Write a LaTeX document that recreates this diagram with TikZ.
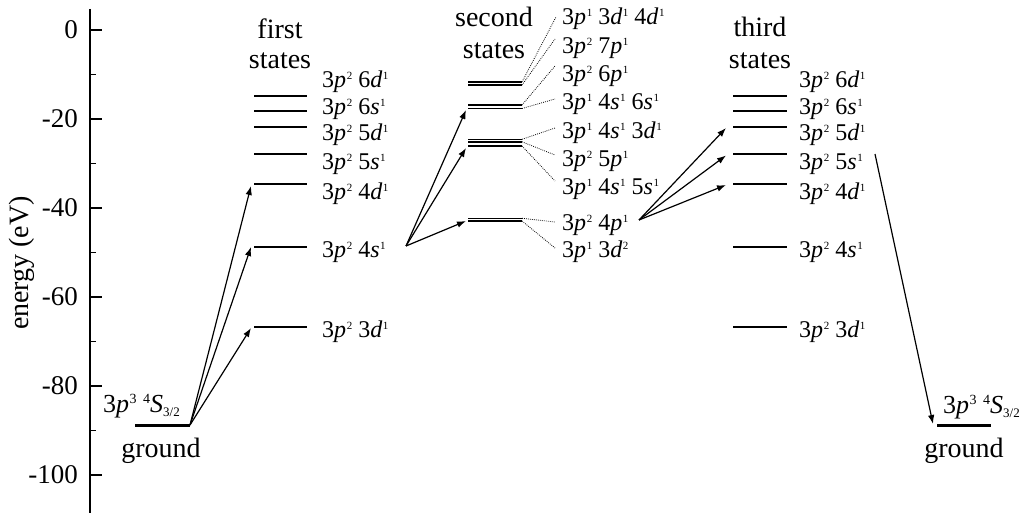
\documentclass[tikz,border=0pt]{standalone}
\usepackage{fontspec}
\setmainfont{Liberation Serif}
\usetikzlibrary{arrows.meta}
\newcommand\orb[3]{#1\textit{#2}\kern0.6pt\raisebox{8pt}{\fontsize{11}{11}\selectfont #3}}
\newcommand\gsup[1]{\raisebox{9pt}{\fontsize{14}{14}\selectfont #1}}
\newcommand\glab{3\textit{p}\kern0.5pt\gsup{3}\ \gsup{4}\textit{S}\raisebox{-4pt}{\fontsize{13}{13}\selectfont 3/2}}
\begin{document}
\begin{tikzpicture}[x=1pt,y=-1pt,
  lvl/.style={line width=1.5pt},
  gnd/.style={line width=3pt},
  arr/.style={-{Latex[length=9pt,width=6.5pt]}, line width=1.2pt},
  dots/.style={line width=0.8pt, dash pattern=on 0.8pt off 1.2pt},
  lab/.style={anchor=base west, inner sep=0pt, font=\fontsize{24}{26}\selectfont},
  head/.style={anchor=base, inner sep=0pt, font=\fontsize{28}{30}\selectfont},
  tick/.style={anchor=east, inner sep=0pt, font=\fontsize{27}{29}\selectfont},
  axis/.style={line width=1.2pt},
]
\useasboundingbox (0,0) rectangle (1032,513);

% axis
\draw[axis] (90,9) coordinate (axtop) -- (90,513) coordinate (axbot);
\foreach \e/\t in {0/0,-20/-20,-40/-40,-60/-60,-80/-80,-100/-100}{
  \draw[axis] (90,30-4.45*\e) -- (102,30-4.45*\e);
  \node[tick] (tk\e) at (78,30-4.45*\e) {\t};
}
\foreach \e in {-10,-30,-50,-70,-90}{
  \draw[axis] (90,30-4.45*\e) -- (96,30-4.45*\e);
}
\node[rotate=90, inner sep=0pt, font=\fontsize{28}{30}\selectfont] (ylab) at (22,263) {energy (eV)};

% headings
\node[head] (h1a) at (280,39) {first};
\node[head] (h1b) at (280,69) {states};
\node[head] (h2a) at (494,27) {second};
\node[head] (h2b) at (494,59) {states};
\node[head] (h3a) at (760,37) {third};
\node[head] (h3b) at (760,69) {states};

% ground states
\draw[gnd] (135,425) coordinate (GLL) -- (190,425) coordinate (GLR);
\draw[gnd] (937,425) coordinate (GRL) -- (991,425) coordinate (GRR);
\node[anchor=base west, inner sep=0pt, font=\fontsize{26}{28}\selectfont] (gl1) at (103,412) {\glab};
\node[anchor=base west, inner sep=0pt, font=\fontsize{26}{28}\selectfont] (gr1) at (943,413) {\glab};
\node[head] (gl2) at (161,457) {ground};
\node[head] (gr2) at (964,457) {ground};

% first and third states levels
\foreach \n/\y in {6d/96,6s/111,5d/127,5s/154,4d/184,4s/247,3d/327}{
  \draw[lvl] (254,\y) coordinate (F\n L) -- (307,\y) coordinate (F\n R);
  \draw[lvl] (733,\y) coordinate (T\n L) -- (787,\y) coordinate (T\n R);
}
\foreach \c/\a/\b/\yb in {6d/6/d/88,6s/6/s/115,5d/5/d/141,5s/5/s/169,4d/4/d/199,4s/4/s/257,3d/3/d/337}{
  \node[lab] (FL\c) at (322,\yb) {\orb{3}{p}{2}\ \orb{\a}{\b}{1}};
  \node[lab] (TL\c) at (799,\yb) {\orb{3}{p}{2}\ \orb{\a}{\b}{1}};
}

% second states levels
\foreach \k/\y in {a/82,b/85,c/105,d/108.5,e/139.3,f/141.8,g/146,h/218.3,i/221}{
  \draw[lvl] (468,\y) coordinate (S\k L) -- (522,\y) coordinate (S\k R);
}
\node[lab] (s1) at (562,25) {\orb{3}{p}{1}\ \orb{3}{d}{1}\ \orb{4}{d}{1}};
\node[lab] (s2) at (562,54) {\orb{3}{p}{2}\ \orb{7}{p}{1}};
\node[lab] (s3) at (562,82) {\orb{3}{p}{2}\ \orb{6}{p}{1}};
\node[lab] (s4) at (562,110) {\orb{3}{p}{1}\ \orb{4}{s}{1}\ \orb{6}{s}{1}};
\node[lab] (s5) at (562,139) {\orb{3}{p}{1}\ \orb{4}{s}{1}\ \orb{3}{d}{1}};
\node[lab] (s6) at (562,167) {\orb{3}{p}{2}\ \orb{5}{p}{1}};
\node[lab] (s7) at (562,194) {\orb{3}{p}{1}\ \orb{4}{s}{1}\ \orb{5}{s}{1}};
\node[lab] (s8) at (562,230) {\orb{3}{p}{2}\ \orb{4}{p}{1}};
\node[lab] (s9) at (562,257) {\orb{3}{p}{1}\ \orb{3}{d}{2}};

% dotted leaders
\draw[dots] (SaR) -- ([shift={(-6,-8)}]s1.base west);
\draw[dots] (SbR) -- ([shift={(-7,-15)}]s2.base west);
\draw[dots] (ScR) -- ([shift={(-7,-16)}]s3.base west);
\draw[dots] (SdR) -- ([shift={(-7,-11)}]s4.base west);
\draw[dots] (SeR) -- ([shift={(-7,-11)}]s5.base west);
\draw[dots] (SfR) -- ([shift={(-7,-12)}]s6.base west);
\draw[dots] (SgR) -- ([shift={(-7,-13)}]s7.base west);
\draw[dots] (ShR) -- ([shift={(-7,-8)}]s8.base west);
\draw[dots] (SiR) -- ([shift={(-7,-9)}]s9.base west);

% arrows
\coordinate (A1) at (406,246);
\coordinate (A2) at (639,220);
\coordinate (A3) at (875,154);
\draw[arr] (GLR) -- ([shift={(-3,2)}]F4dL);
\draw[arr] (GLR) -- ([shift={(-3,0)}]F4sL);
\draw[arr] (GLR) -- ([shift={(-3,1)}]F3dL);
\draw[arr] (A1) -- ([shift={(-2,1.5)}]SdL);
\draw[arr] (A1) -- ([shift={(-2,2)}]SgL);
\draw[arr] (A1) -- ([shift={(-2,0)}]SiL);
\draw[arr] (A2) -- ([shift={(-7,1)}]T5dL);
\draw[arr] (A2) -- ([shift={(-7,1.5)}]T5sL);
\draw[arr] (A2) -- ([shift={(-7,1)}]T4dL);
\draw[arr] (A3) -- ([shift={(-4,-1)}]GRL);
\end{tikzpicture}
\end{document}
